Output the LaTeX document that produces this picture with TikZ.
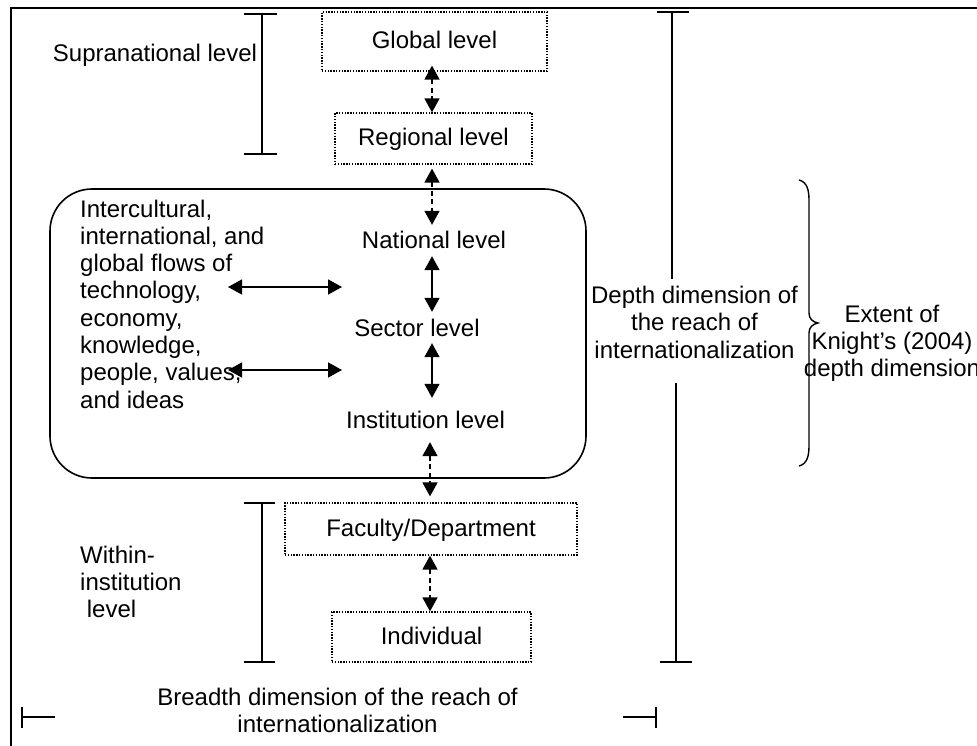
\documentclass[tikz,border=0pt]{standalone}
\usepackage{fontspec}
\setmainfont{Liberation Sans}
\usetikzlibrary{arrows.meta,calc}
\begin{document}
\begin{tikzpicture}[x=1pt,y=-1pt,
  every node/.style={font=\fontsize{24}{27.3}\selectfont, inner sep=0pt},
  lvl/.style={text height=17pt, text depth=3pt},
  lvlbox/.style={lvl, draw, line width=1.2pt, dash pattern=on 1.4pt off 1.4pt},
  flow/.style={line width=1.5pt, {Triangle[length=14pt,width=15pt]}-{Triangle[length=14pt,width=15pt]}},
  dflow/.style={flow, dash pattern=on 5pt off 3.5pt},
  bar/.style={line width=1.6pt},
  frame/.style={line width=2.2pt},
]
\useasboundingbox (0,0) rectangle (977,746);

% outer frame (left and top edges)
\draw[frame] (11,746) -- (11,8) -- (977,8);

% central column of levels
\node[lvlbox, minimum width=225pt, minimum height=59pt] (glob) at (434.5,41.5) {Global level};
\node[lvlbox, minimum width=197pt, minimum height=51pt] (reg) at (433.5,138.5) {Regional level};
\node[draw, line width=1.6pt, rounded corners=42pt, minimum width=536pt, minimum height=289pt] (core) at (318,333.5) {};
\node[lvl, anchor=base] (nat) at (434,248) {National level};
\node[lvl, anchor=base] (sec) at (417,336) {Sector level};
\node[lvl, anchor=base] (inst) at (425.5,428) {Institution level};
\node[lvlbox, minimum width=292pt, minimum height=52pt] (fac) at (431,529) {Faculty/Department};
\node[lvlbox, minimum width=199pt, minimum height=50pt] (ind) at (431.5,637) {Individual};

% flows text inside the rounded box
\node[anchor=north west, align=left] (flows) at (80,199.5)
  {Intercultural,\\international, and\\global flows of\\technology,\\economy,\\knowledge,\\people, values,\\and ideas};

% side labels
\node[anchor=base] (supra) at (155,62) {Supranational level};
\node[anchor=north west, align=left] (within) at (80,545.5) {Within-\\institution\\\hspace*{6.7pt}level};
\node[anchor=north, align=center] (depth) at (694.5,286) {Depth dimension of\\the reach of\\internationalization};
\node[anchor=north, align=center] (extent) at (892,304.5) {Extent of\\Knight’s (2004)\\depth dimension};
\node[anchor=north, align=center] (breadth) at (337.5,687.5) {Breadth dimension of the reach of\\internationalization};

% vertical axis of the level arrows
\coordinate (axis) at (432,0);
\coordinate (axisb) at (430,0);

\draw[dflow] ($(axis |- glob.south)+(0,-6)$) -- (axis |- reg.north);
\draw[dflow] ($(axis |- reg.south)+(0,4)$) -- ($(axis |- nat.north)+(0,-6)$);
\draw[flow] ($(axis |- nat.south)+(0,5)$) -- ($(axis |- sec.north)+(0,-7)$);
\draw[flow] ($(axis |- sec.south)+(0,4)$) -- ($(axis |- inst.north)+(0,-13)$);
\draw[dflow] ($(axisb |- inst.south)+(0,11)$) -- ($(axisb |- fac.north)+(0,-6)$);
\draw[dflow] (axisb |- fac.south) -- (axisb |- ind.north);

% horizontal flow arrows
\coordinate (f1a) at (228,287);
\coordinate (f1b) at (342,287);
\coordinate (f2a) at (228,370);
\coordinate (f2b) at (342,370);
\draw[flow] (f1a) -- (f1b);
\draw[flow] (f2a) -- (f2b);

% range bars
\draw[bar] (244,14) -- (277,14) (262,14) -- (262,154) (244,154) -- (277,154);
\draw[bar] (244,503) -- (275,503) (262,503) -- (262,662) (244,662) -- (275,662);
\draw[bar] (657,12) -- (689,12) (672,12) -- (672,279);
\draw[bar] (676,383) -- (676,662) (660,662) -- (692,662);
\draw[bar] (22,707) -- (22,728) (22,717) -- (55,717);
\draw[bar] (623,717) -- (656,717) (656,707) -- (656,728);

% curly brace
\draw[line width=1.4pt] (799,180) .. controls (807,182) and (809,190) .. (809,200)
  -- (809,313) .. controls (809,319) and (813,322) .. (818,323)
  .. controls (813,324) and (809,327) .. (809,333)
  -- (809,446) .. controls (809,456) and (807,464) .. (799,466);
\end{tikzpicture}
\end{document}
